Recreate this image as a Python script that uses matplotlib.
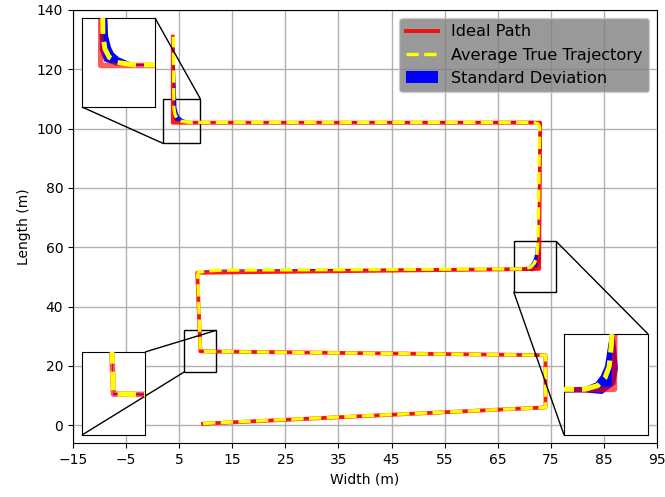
import matplotlib
matplotlib.use("Agg")
import matplotlib.pyplot as plt
import numpy as np
from mpl_toolkits.axes_grid1.inset_locator import mark_inset

# Ideal (planned) path waypoints
ideal_x = [9.5, 74.0, 74.0, 9.0, 8.4, 72.8, 73.0, 3.8, 3.8]
ideal_y = [0.5, 6.0, 23.6, 24.9, 51.4, 52.7, 102.0, 102.0, 131.0]

# Average of the driven trajectories
mean_x = [9.5, 74.0, 74.0, 9.0, 8.5, 8.6, 10.0, 13.0, 70.0, 71.2, 71.9, 72.3,
          72.5, 72.6, 72.9, 72.6, 71.8, 7.0, 5.4, 4.6, 4.2, 4.0, 3.9]
mean_y = [0.6, 6.0, 23.6, 24.9, 50.5, 51.5, 52.0, 52.3, 52.7, 53.3, 54.6, 56.5,
          60.0, 63.0, 100.5, 101.6, 102.1, 102.1, 102.5, 103.4, 104.8, 107.0, 131.0]
# Spread on either side of the average (left of travel / right of travel)
std_left = [0.1, 0.1, 0.1, 0.1, 0.1, 0.2, 0.1, 0.1, 0.2, 0.35, 0.45, 0.4,
            0.3, 0.1, 0.1, 0.25, 0.2, 0.1, 0.3, 0.6, 0.5, 0.3, 0.1]
std_right = [0.1, 0.1, 0.1, 0.1, 0.1, 0.2, 0.1, 0.1, 0.3, 0.9, 1.15, 0.85,
             0.45, 0.1, 0.3, 0.6, 0.3, 0.1, 0.5, 0.6, 0.6, 0.5, 0.1]

x_ticks = list(range(-15, 96, 10))
y_ticks = list(range(0, 141, 20))

# Zoomed regions: (xmin, xmax, ymin, ymax)
zoom_regions = [(2, 9, 95, 110), (6, 12, 18, 32), (68, 76, 45, 62)]
# Inset placement in axes fractions
inset_boxes = [
    [9 / 584, 336 / 433, 73 / 584, 89 / 433],
    [9 / 584, 8 / 433, 63 / 584, 83 / 433],
    [491 / 584, 8 / 433, 84 / 584, 101 / 433],
]

# ratio of vertical to horizontal pixel density of the main axes
ASPECT = (433 / 146) / (584 / 110)


def band_polygon(x, y, s_left, s_right):
    pts = np.column_stack([x, np.asarray(y) * ASPECT]).astype(float)
    tang = np.gradient(pts, axis=0)
    tang /= np.linalg.norm(tang, axis=1, keepdims=True)
    normal = np.column_stack([-tang[:, 1], tang[:, 0]])
    left = pts + normal * np.asarray(s_left)[:, None]
    right = pts - normal * np.asarray(s_right)[:, None]
    poly = np.vstack([left, right[::-1]])
    return poly[:, 0], poly[:, 1] / ASPECT


band_x, band_y = band_polygon(mean_x, mean_y, std_left, std_right)


def draw_paths(a, lw_ideal, lw_mean, red_alpha):
    a.fill(band_x, band_y, color="blue", lw=0, zorder=1,
           label="Standard Deviation")
    a.plot(ideal_x, ideal_y, color="red", lw=lw_ideal, alpha=red_alpha,
           zorder=2, label="Ideal Path")
    a.plot(mean_x, mean_y, color="yellow", lw=lw_mean, ls="--", zorder=3,
           label="Average True Trajectory")


fig = plt.figure(figsize=(6.65, 4.97), dpi=100)
ax = fig.add_axes([73 / 665, 1 - 443 / 497, 584 / 665, 433 / 497])

draw_paths(ax, 2.8, 2.4, 0.9)
ax.set_xlim(-15, 95)
ax.set_ylim(-6, 140)
ax.set_xticks(x_ticks)
ax.set_yticks(y_ticks)
ax.grid(True, color="#b0b0b0", lw=1.0)
ax.set_axisbelow(True)
ax.set_xlabel("Width (m)")
ax.set_ylabel("Length (m)")

handles, labels = ax.get_legend_handles_labels()
order = [labels.index(l) for l in
         ["Ideal Path", "Average True Trajectory", "Standard Deviation"]]
ax.legend([handles[i] for i in order], [labels[i] for i in order],
          loc="upper right", facecolor="gray", framealpha=0.8, fontsize=11.6)

for (x0, x1, y0, y1), box in zip(zoom_regions, inset_boxes):
    axins = ax.inset_axes(box)
    draw_paths(axins, 4.0, 3.6, 0.65)
    axins.set_xlim(x0, x1)
    axins.set_ylim(y0, y1)
    axins.set_xticks([])
    axins.set_yticks([])
    axins.set_facecolor("white")
    mark_inset(ax, axins, loc1=1, loc2=3, fc="none", ec="black", lw=1.0)

fig.savefig("out.png", dpi=100)
